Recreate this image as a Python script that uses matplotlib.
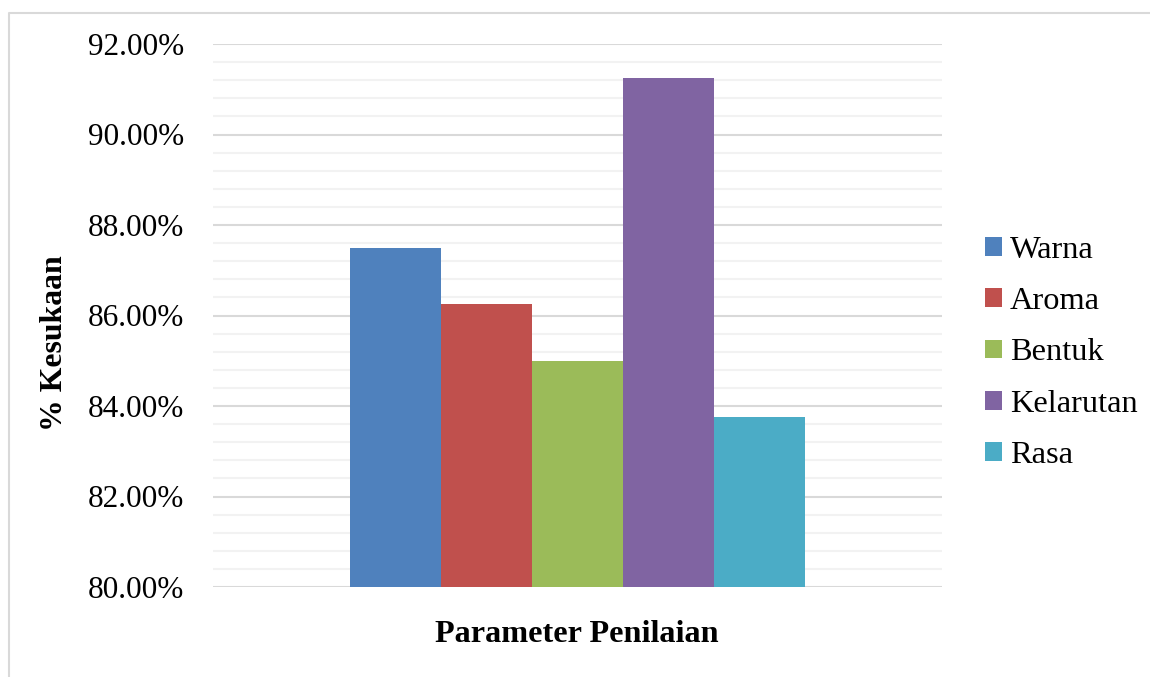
import matplotlib
matplotlib.use("Agg")
import matplotlib.pyplot as plt
from matplotlib.ticker import MultipleLocator, FuncFormatter
from matplotlib.lines import Line2D

categories = ["Warna", "Aroma", "Bentuk", "Kelarutan", "Rasa"]
values = [87.5, 86.25, 85.0, 91.25, 83.75]
colors = ["#4F81BD", "#C0504D", "#9BBB59", "#8064A2", "#4BACC6"]
y_min, y_max = 80.0, 92.0
x_label = "Parameter Penilaian"
y_label = "% Kesukaan"

plt.rcParams['font.family'] = ['Liberation Serif', 'DejaVu Serif']

fig = plt.figure(figsize=(11.5, 6.77), dpi=100)
ax = fig.add_axes([213/1150, 1-587/677, (942-213)/1150, (587-44)/677])

n = len(categories)
width = 0.1248
for i, (cat, val, col) in enumerate(zip(categories, values, colors)):
    x = (i - (n - 1) / 2) * width
    ax.bar(x, val - y_min, width=width, bottom=y_min, color=col, label=cat, zorder=3)

ax.set_xlim(-0.5, 0.5)
ax.set_ylim(y_min, y_max)
ax.yaxis.set_major_locator(MultipleLocator(2))
ax.yaxis.set_minor_locator(MultipleLocator(0.4))
ax.yaxis.set_major_formatter(FuncFormatter(lambda v, p: f"{v:.2f}%"))
ax.grid(axis='y', which='major', color='#d9d9d9', linewidth=1.5, zorder=0)
ax.grid(axis='y', which='minor', color='#f2f2f2', linewidth=1.5, zorder=0)
ax.set_axisbelow(True)
for s in ax.spines.values():
    s.set_visible(False)
ax.set_xticks([])
ax.tick_params(axis='y', which='both', length=0, labelsize=22.5, pad=21)

fig.text(55/1150, 1-343/677, y_label, rotation=90, ha='center', va='center',
         fontsize=22.9, fontweight='bold')
fig.text(577/1150, 1-635/677, x_label, ha='center', va='center',
         fontsize=23.2, fontweight='bold')

leg = ax.legend(loc='center left', bbox_to_anchor=(985/1150, 1-353/677),
                bbox_transform=fig.transFigure, frameon=False, fontsize=23.3,
                handlelength=0.52, handleheight=0.52, handletextpad=0.25,
                labelspacing=0.69, borderaxespad=0, borderpad=0)

fig.add_artist(Line2D([9/1150, 9/1150, 1.0], [0.0, 1-13/677, 1-13/677],
                      transform=fig.transFigure, color='#d9d9d9', linewidth=1.5))

fig.savefig("out.png", dpi=100)
